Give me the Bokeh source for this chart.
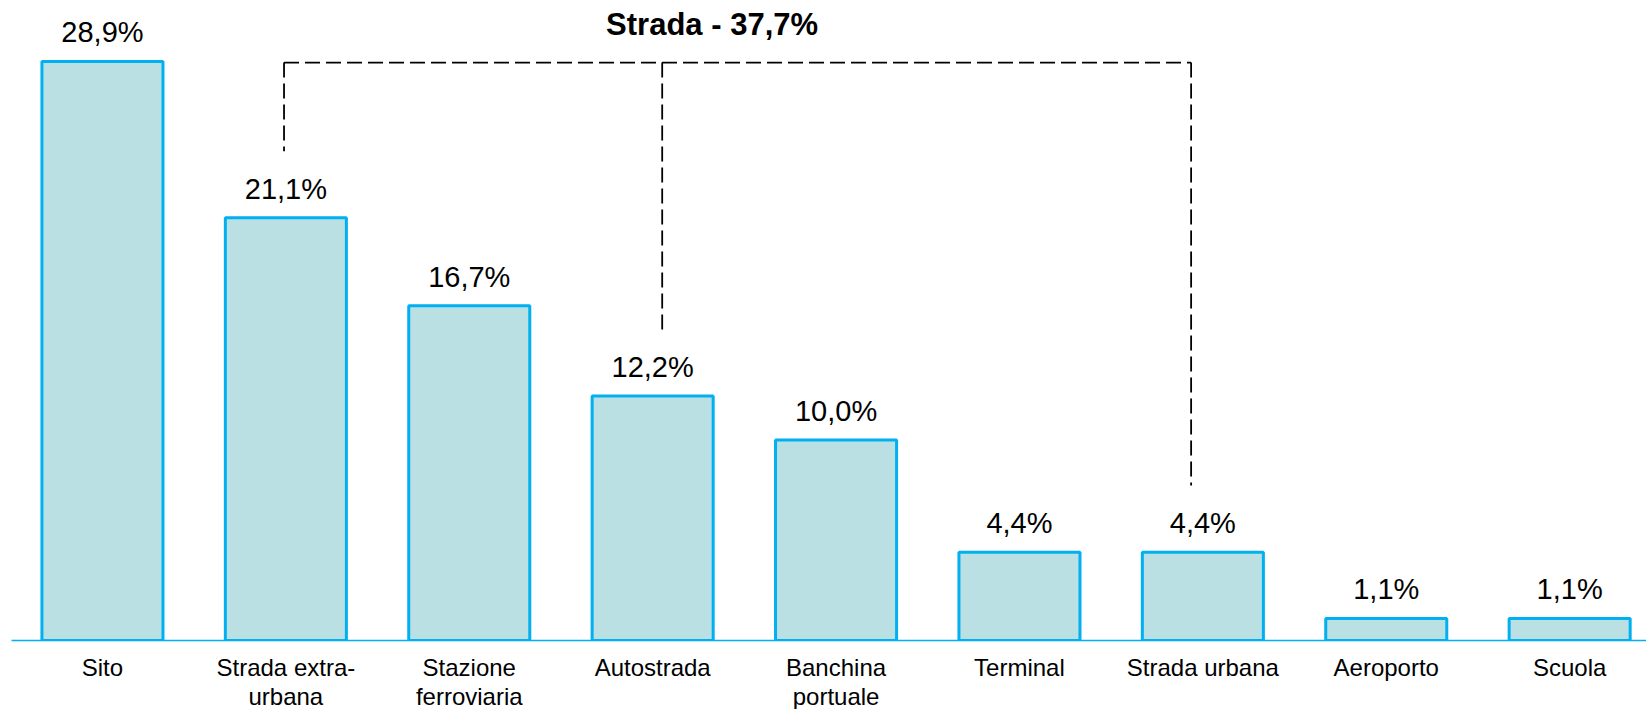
from bokeh.plotting import figure
from bokeh.models import ColumnDataSource, Range1d, LabelSet, Label, FixedTicker
from bokeh.core.properties import value
from bokeh.embed import file_html
from bokeh.resources import INLINE

# ---- data ----
categories = ["Sito", "Strada extra-\nurbana", "Stazione\nferroviaria", "Autostrada",
              "Banchina\nportuale", "Terminal", "Strada urbana", "Aeroporto", "Scuola"]
values = [28.9, 21.1, 16.7, 12.2, 10.0, 4.4, 4.4, 1.1, 1.1]
value_labels = ["28,9%", "21,1%", "16,7%", "12,2%", "10,0%", "4,4%", "4,4%", "1,1%", "1,1%"]
group_title = "Strada - 37,7%"

FONT = "Liberation Sans"
BLUE = "#00B0F0"
FILL = "#BAE0E4"

xs = list(range(len(categories)))
src = ColumnDataSource(dict(x=xs, top=values, lab=value_labels))

p = figure(frame_width=1635, frame_height=632,
           x_range=Range1d(-0.496, 8.419), y_range=Range1d(0, 31.54),
           output_backend="svg", toolbar_location=None,
           min_border_left=11, min_border_right=0, min_border_top=8, min_border_bottom=69)

p.vbar(x="x", top="top", bottom=0, width=0.66, source=src,
       fill_color=FILL, line_color=BLUE, line_width=3)

p.add_layout(LabelSet(x="x", y="top", text="lab", source=src, y_offset=19,
                      text_align="center", text_baseline="alphabetic",
                      text_font=value(FONT), text_font_size=value("29px"),
                      text_color="#000000"))

# bracket over the "Strada" group
bracket_y = 28.84
bracket_x = [0.99, 3.052, 5.936]
bracket_bottom = [24.42, 15.29, 7.73]
dash = dict(line_color="#000000", line_width=1.8, line_dash="15 6")
p.line(x=[bracket_x[0], bracket_x[2]], y=[bracket_y, bracket_y], **dash)
for bx, bb in zip(bracket_x, bracket_bottom):
    p.line(x=[bx, bx], y=[bracket_y, bb], **dash)

p.add_layout(Label(x=3.324, y=30.74, text=group_title, text_align="center",
                   text_baseline="alphabetic", text_font=FONT, text_font_size="31px",
                   text_font_style="bold", text_color="#000000"))

# axes / styling
p.yaxis.visible = False
p.xgrid.visible = False
p.ygrid.visible = False
p.outline_line_color = None
ax = p.xaxis[0]
ax.ticker = FixedTicker(ticks=xs)
ax.major_label_overrides = {i: c for i, c in enumerate(categories)}
ax.axis_line_color = BLUE
ax.axis_line_width = 1.5
ax.major_tick_line_color = None
ax.minor_tick_line_color = None
ax.major_label_standoff = 7
ax.major_label_text_font = FONT
ax.major_label_text_font_size = "24px"
ax.major_label_text_line_height = 1.1
ax.major_label_text_color = "#000000"

open("out.html", "w").write(file_html(p, INLINE))
